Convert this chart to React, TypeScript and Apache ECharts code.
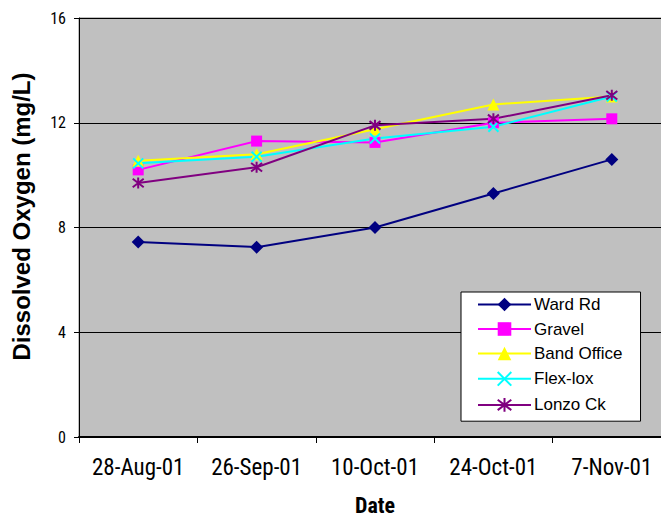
import React, { useEffect, useRef } from "react";
import * as echarts from "echarts";

const dates = ["28-Aug-01", "26-Sep-01", "10-Oct-01", "24-Oct-01", "7-Nov-01"];
const wardRd = [7.45, 7.25, 8.0, 9.3, 10.6];
const gravel = [10.2, 11.3, 11.25, 12.0, 12.15];
const bandOffice = [10.55, 10.8, 11.75, 12.7, 13.0];
const flexLox = [10.45, 10.7, 11.4, 11.85, 13.0];
const lonzoCk = [9.7, 10.3, 11.9, 12.15, 13.05];
const yTicks = { min: 0, max: 16, interval: 4 };

const FONT = "'Liberation Sans', Arial, sans-serif";
const NARROW = "'Roboto Condensed', 'Liberation Sans', Arial, sans-serif";

// Stroked marker outlines for the cross and asterisk symbols
const crossPath = "path://M0 0L10 10M10 0L0 10";
const starPath = "path://M0 0L10 10M10 0L0 10M5 -1.5L5 11.5";

export default function App() {
  const ref = useRef<HTMLDivElement>(null);

  useEffect(() => {
    if (!ref.current) return;
    const chart = echarts.init(ref.current, null, { renderer: "svg" });

    const filled = (name: string, data: number[], color: string, symbol: string, size: number) => ({
      name,
      type: "line",
      data,
      symbol,
      symbolSize: size,
      showAllSymbol: true,
      lineStyle: { color, width: 2 },
      itemStyle: { color, borderWidth: 0 },
      emphasis: { disabled: true },
    });

    const stroked = (name: string, data: number[], color: string, symbol: string, size: number) => ({
      name,
      type: "line",
      data,
      symbol,
      symbolSize: size,
      showAllSymbol: true,
      lineStyle: { color, width: 2 },
      itemStyle: { color: "none", borderColor: color, borderWidth: 2 },
      emphasis: { disabled: true },
    });

    chart.setOption({
      animation: false,
      textStyle: { fontFamily: FONT },
      grid: {
        left: 79,
        top: 18,
        width: 592,
        height: 419,
        outerBoundsMode: "none",
        containLabel: false,
        show: true,
        backgroundColor: "#c0c0c0",
        borderColor: "#808080",
        borderWidth: 1,
      },
      legend: {
        orient: "vertical",
        left: 461,
        top: 292,
        backgroundColor: "#ffffff",
        borderColor: "#000000",
        borderWidth: 1,
        padding: [4, 18, 7, 16],
        itemWidth: 53,
        itemHeight: 17,
        itemGap: 7.5,
        textStyle: { fontFamily: FONT, fontSize: 17, color: "#000000", padding: [0, 0, 0, -2] },
        data: ["Ward Rd", "Gravel", "Band Office", "Flex-lox", "Lonzo Ck"],
      },
      xAxis: {
        type: "category",
        data: dates,
        boundaryGap: true,
        name: "Date",
        nameLocation: "middle",
        nameGap: 57,
        nameTextStyle: { fontFamily: NARROW, fontSize: 22, fontWeight: "bold", color: "#000000" },
        axisLine: { lineStyle: { color: "#000000", width: 2 } },
        axisTick: { show: true, length: 6, interval: 0, lineStyle: { color: "#000000" } },
        axisLabel: {
          interval: 0,
          hideOverlap: false,
          fontFamily: NARROW,
          fontSize: 23,
          color: "#000000",
          margin: 19,
        },
      },
      yAxis: {
        type: "value",
        min: yTicks.min,
        max: yTicks.max,
        interval: yTicks.interval,
        name: "Dissolved Oxygen (mg/L)",
        nameLocation: "middle",
        nameGap: 46,
        nameTextStyle: {
          fontFamily: FONT,
          fontSize: 24,
          fontWeight: "bold",
          color: "#000000",
          padding: [0, 0, 0, 22],
        },
        axisLine: { show: true, lineStyle: { color: "#000000", width: 1 } },
        axisTick: { show: true, length: 5, lineStyle: { color: "#000000" } },
        axisLabel: { fontFamily: NARROW, fontSize: 16, color: "#000000", margin: 13 },
        splitLine: { show: true, lineStyle: { color: "#000000", width: 1 } },
      },
      series: [
        filled("Ward Rd", wardRd, "#000080", "diamond", 13),
        filled("Gravel", gravel, "#ff00ff", "rect", 11),
        filled("Band Office", bandOffice, "#ffff00", "triangle", 12),
        stroked("Flex-lox", flexLox, "#00ffff", crossPath, 10),
        stroked("Lonzo Ck", lonzoCk, "#800080", starPath, 11),
      ],
    });

    return () => chart.dispose();
  }, []);

  return (
    <div
      ref={ref}
      style={{ position: "fixed", left: 0, top: 0, width: 661, height: 520, background: "#ffffff" }}
    />
  );
}
